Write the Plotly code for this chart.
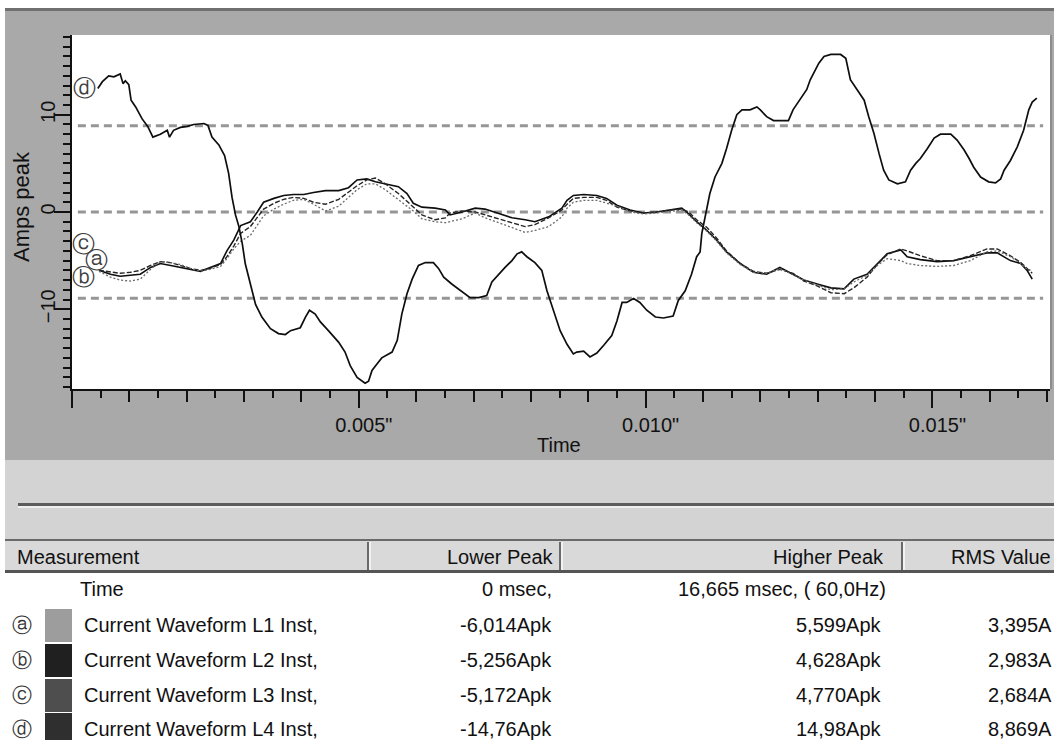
import plotly.graph_objects as go

# ---- waveform data (time in ms, current in A) ----
t_ms_L4 = [0.45, 0.53, 0.64, 0.73, 0.84, 0.89, 0.93, 0.99, 1.03, 1.11,
           1.22, 1.32, 1.41, 1.54, 1.66, 1.70, 1.77, 1.89, 2.01, 2.12,
           2.30, 2.37, 2.44, 2.56, 2.66, 2.73, 2.79, 2.85, 2.91, 2.97,
           3.02, 3.11, 3.20, 3.31, 3.46, 3.60, 3.72, 3.81, 3.98, 4.07,
           4.14, 4.24, 4.33, 4.47, 4.65, 4.76, 4.85, 4.97, 5.11, 5.17,
           5.23, 5.32, 5.40, 5.58, 5.67, 5.75, 5.84, 5.93, 6.04, 6.16,
           6.30, 6.39, 6.48, 6.62, 6.80, 6.94, 7.09, 7.23, 7.32, 7.44,
           7.55, 7.67, 7.76, 7.84, 7.93, 8.07, 8.19, 8.28, 8.39, 8.51,
           8.63, 8.74, 8.80, 8.92, 9.03, 9.15, 9.27, 9.41, 9.50, 9.59,
           9.67, 9.79, 9.90, 10.02, 10.17, 10.31, 10.48, 10.57, 10.69, 10.80,
           10.89, 10.95, 10.98, 11.04, 11.12, 11.21, 11.33, 11.41, 11.50, 11.59,
           11.68, 11.82, 11.94, 12.00, 12.11, 12.23, 12.49, 12.57, 12.69, 12.81,
           12.87, 12.94, 13.02, 13.11, 13.23, 13.40, 13.49, 13.57, 13.69, 13.81,
           13.89, 13.98, 14.07, 14.15, 14.24, 14.39, 14.53, 14.62, 14.71, 14.79,
           14.91, 15.03, 15.14, 15.32, 15.43, 15.55, 15.64, 15.72, 15.84, 15.98,
           16.10, 16.19, 16.25, 16.36, 16.48, 16.59, 16.68, 16.74, 16.82]
amps_L4 = [12.7, 13.4, 14.0, 13.9, 14.2, 13.2, 13.5, 13.1, 11.5, 10.8,
           9.6, 8.8, 7.7, 8.0, 8.4, 7.7, 8.4, 8.7, 8.8, 9.0,
           9.1, 8.9, 7.7, 6.9, 5.8, 4.0, 1.5, -0.3, -1.5, -3.3,
           -5.3, -7.4, -9.5, -10.8, -12.0, -12.5, -12.6, -12.2, -11.9, -10.8,
           -10.1, -10.5, -11.3, -12.2, -13.4, -14.4, -15.8, -17.0, -17.6, -17.4,
           -16.3, -15.6, -15.0, -14.4, -13.2, -10.5, -8.4, -6.9, -5.5, -5.2,
           -5.2, -5.8, -6.7, -7.4, -8.2, -8.8, -8.8, -8.6, -7.2, -6.4,
           -5.7, -5.0, -4.3, -4.1, -4.6, -5.2, -6.0, -8.1, -10.1, -12.2,
           -13.6, -14.6, -14.4, -14.3, -14.9, -14.5, -13.7, -12.7, -11.2, -9.3,
           -9.3, -8.9, -9.3, -10.1, -10.8, -10.9, -10.7, -9.1, -8.1, -6.4,
           -4.6, -4.1, -2.2, -0.3, 1.9, 3.6, 5.0, 6.5, 8.4, 10.0,
           10.5, 10.5, 10.8, 10.5, 9.8, 9.4, 9.4, 10.5, 11.5, 12.6,
           13.6, 14.4, 15.3, 16.0, 16.2, 16.2, 15.8, 13.6, 12.5, 11.5,
           9.8, 8.1, 6.0, 4.3, 3.3, 2.9, 3.1, 4.3, 5.0, 5.5,
           6.5, 7.6, 8.0, 8.0, 7.4, 6.4, 5.5, 4.6, 3.6, 3.1,
           3.0, 3.4, 4.3, 5.3, 6.7, 8.4, 10.5, 11.3, 11.7]

t_ms_L123 = [0.47, 0.67, 0.84, 1.02, 1.19, 1.37, 1.54, 1.72, 1.89, 2.06,
             2.24, 2.41, 2.59, 2.70, 2.82, 2.94, 3.11, 3.23, 3.34, 3.52,
             3.69, 3.86, 4.04, 4.21, 4.42, 4.65, 4.82, 4.97, 5.14, 5.29,
             5.46, 5.69, 5.84, 5.95, 6.10, 6.33, 6.51, 6.59, 6.80, 7.03,
             7.20, 7.44, 7.67, 7.90, 8.07, 8.31, 8.54, 8.63, 8.74, 8.92,
             9.15, 9.32, 9.50, 9.73, 9.96, 10.19, 10.43, 10.63, 10.75, 10.89,
             11.07, 11.24, 11.41, 11.65, 11.88, 12.11, 12.34, 12.57, 12.76, 12.99,
             13.23, 13.46, 13.63, 13.86, 14.04, 14.21, 14.45, 14.56, 14.79, 15.08,
             15.37, 15.66, 15.95, 16.13, 16.36, 16.54, 16.65, 16.74]
amps_L1 = [-6.1, -6.7, -7.0, -7.1, -6.9, -5.9, -5.1, -5.2, -5.4, -5.8,
           -6.1, -5.9, -5.6, -4.8, -3.8, -3.0, -2.4, -1.3, -0.4, 0.3,
           0.8, 1.2, 1.3, 0.8, 0.1, 0.6, 1.5, 2.3, 2.9, 2.9,
           2.3, 1.3, 0.6, 0.1, -0.7, -1.0, -1.1, -1.0, -0.7, -0.1,
           -0.6, -1.1, -1.6, -2.1, -1.9, -1.5, -0.5, 0.4, 1.0, 1.2,
           1.2, 0.9, 0.6, 0.0, -0.2, -0.1, 0.1, 0.2, -0.3, -1.1,
           -2.0, -3.0, -4.2, -5.4, -6.2, -6.3, -5.8, -6.5, -7.0, -7.5,
           -8.0, -7.9, -7.2, -6.5, -5.5, -4.8, -5.0, -5.3, -5.5, -5.6,
           -5.5, -5.0, -4.1, -4.0, -4.6, -5.3, -5.9, -6.0]
amps_L2 = [-6.0, -6.4, -6.6, -6.5, -6.4, -5.7, -5.3, -5.5, -5.7, -5.9,
           -6.1, -5.7, -5.3, -4.0, -2.9, -1.4, -1.0, 0.0, 1.0, 1.4,
           1.7, 1.8, 1.8, 2.0, 2.2, 2.2, 2.5, 3.3, 3.4, 3.1,
           2.9, 2.6, 1.9, 0.9, 0.5, 0.4, 0.2, -0.3, 0.0, 0.4,
           0.3, -0.2, -0.6, -0.8, -1.0, -0.5, 0.4, 1.2, 1.7, 1.8,
           1.7, 1.4, 0.7, 0.2, -0.1, 0.0, 0.2, 0.4, -0.2, -1.0,
           -1.9, -2.9, -4.1, -5.3, -6.2, -6.4, -5.7, -6.4, -7.0, -7.4,
           -7.8, -7.9, -6.9, -6.4, -5.3, -4.3, -3.9, -4.6, -4.9, -5.1,
           -5.0, -4.6, -4.2, -4.2, -5.0, -5.3, -6.0, -6.9]
amps_L3 = [-6.0, -6.2, -6.3, -6.2, -6.0, -5.5, -5.1, -5.2, -5.5, -5.8,
           -6.0, -5.8, -5.4, -4.6, -3.5, -2.2, -1.5, -0.6, 0.3, 0.9,
           1.3, 1.5, 1.4, 1.0, 0.8, 1.3, 2.0, 2.7, 3.3, 3.5,
           2.9, 1.9, 1.1, 0.5, -0.3, -0.8, -0.6, -0.1, 0.1, 0.0,
           -0.3, -0.7, -1.1, -1.5, -1.3, -0.6, 0.2, 0.8, 1.4, 1.5,
           1.5, 1.2, 0.5, 0.1, -0.1, 0.0, 0.2, 0.3, 0.0, -0.8,
           -1.6, -2.7, -4.0, -5.3, -6.1, -6.3, -5.9, -6.3, -7.1, -7.6,
           -8.3, -8.4, -7.8, -6.7, -5.4, -4.4, -3.8, -4.0, -4.5, -5.0,
           -5.0, -4.5, -3.8, -3.8, -4.5, -5.2, -5.8, -6.3]

# ---- measurement table ----
tags = ["ⓐ", "ⓑ", "ⓒ", "ⓓ"]
channel_names = ["Current Waveform L1 Inst,", "Current Waveform L2 Inst,",
                 "Current Waveform L3 Inst,", "Current Waveform L4 Inst,"]
swatch_colors = ["#9d9d9d", "#202020", "#4e4e4e", "#2f2f2f"]
lower_peak = ["-6,014Apk", "-5,256Apk", "-5,172Apk", "-14,76Apk"]
higher_peak = ["5,599Apk", "4,628Apk", "4,770Apk", "14,98Apk"]
rms_value = ["3,395A", "2,983A", "2,684A", "8,869A"]
rms_L4 = 8.869
header = ["Measurement", "Lower Peak", "Higher Peak", "RMS Value"]
time_row = ["Time", "0 msec,", "16,665 msec, ( 60,0Hz)"]

y_ticks = [-10, 0, 10]
x_ticks = [0.005, 0.010, 0.015]
x_ticktext = ['0.005"', '0.010"', '0.015"']

W, H = 1054, 740
UI_FONT = "Liberation Sans, Arial, sans-serif"
FS = 20
INK = "#111111"


def px(x):
    return x / W


def py(y):
    return 1 - y / H


def sec(ms_list):
    return [v / 1000.0 for v in ms_list]


fig = go.Figure()

fig.add_trace(go.Scatter(x=sec(t_ms_L4), y=amps_L4, mode="lines", name="L4",
                         xaxis="x3", yaxis="y",
                         line=dict(color="#0e0e0e", width=1.7)))
fig.add_trace(go.Scatter(x=sec(t_ms_L123), y=amps_L1, mode="lines", name="L1",
                         xaxis="x2", yaxis="y",
                         line=dict(color="#6a6a6a", width=1.3, dash="2px,2px")))
fig.add_trace(go.Scatter(x=sec(t_ms_L123), y=amps_L3, mode="lines", name="L3",
                         xaxis="x", yaxis="y2",
                         line=dict(color="#262626", width=1.4, dash="5px,2px")))
fig.add_trace(go.Scatter(x=sec(t_ms_L123), y=amps_L2, mode="lines", name="L2",
                         xaxis="x", yaxis="y",
                         line=dict(color="#0e0e0e", width=1.6)))

shapes = []


def rect(x0, y0, x1, y1, color):
    shapes.append(dict(type="rect", xref="paper", yref="paper", layer="below",
                       x0=px(x0), x1=px(x1), y0=py(y1), y1=py(y0),
                       fillcolor=color, line=dict(width=0)))


# window panels
rect(5, 8, W, 460, "#a9a9a9")
rect(5, 8, W, 11, "#707070")
rect(72, 35, 1050, 389, "#ffffff")
rect(1050, 35, 1052, 389, "#8c8c8c")
rect(5, 460, W, 540, "#d3d3d3")
rect(18, 503, W, 506, "#5c5c5c")
rect(18, 506, W, 508, "#efefef")
rect(5, 540, W, 572, "#d9d9d9")
rect(5, 539, W, 541, "#6a6a6a")
rect(5, 570, W, 573, "#555555")
for xs in (368, 560, 902):
    rect(xs - 1, 542, xs + 1, 570, "#6a6a6a")
    rect(xs + 1, 542, xs + 3, 570, "#f2f2f2")

# RMS reference levels of L4
for level in (rms_L4, 0.0, -rms_L4):
    shapes.append(dict(type="line", xref="x domain", yref="y", layer="below",
                       x0=0.006, x1=0.993, y0=level, y1=level,
                       line=dict(color="#969696", width=3, dash="8px,5px")))

annotations = []


def text(s, x, y, anchor="left", size=FS, color=INK, family=UI_FONT, angle=0):
    annotations.append(dict(text=s, xref="paper", yref="paper", x=px(x), y=py(y),
                            xanchor=anchor, yanchor="middle", showarrow=False,
                            textangle=angle,
                            font=dict(family=family, size=size, color=color)))


text("Time", 559, 445, anchor="center")
text("Amps peak", 22, 207, anchor="center", angle=-90, size=22)

# curve tags next to the start of each trace
tag_font = dict(family="DejaVu Sans", size=23, color="#404040")
annotations.append(dict(text=tags[3], x=t_ms_L4[0] / 1000, y=amps_L4[0], xref="x", yref="y",
                        xshift=-13, showarrow=False, font=tag_font))
annotations.append(dict(text=tags[2], x=t_ms_L123[0] / 1000, y=amps_L3[0], xref="x", yref="y",
                        xshift=-15, yshift=26, showarrow=False, font=tag_font))
annotations.append(dict(text=tags[0], x=t_ms_L123[0] / 1000, y=amps_L1[0], xref="x", yref="y",
                        xshift=-2, yshift=11, showarrow=False, font=tag_font))
annotations.append(dict(text=tags[1], x=t_ms_L123[0] / 1000, y=amps_L2[0], xref="x", yref="y",
                        xshift=-15, yshift=-7, showarrow=False, font=tag_font))

# table header
text(header[0], 15, 557)
text(header[1], 556, 557, anchor="right")
text(header[2], 886, 557, anchor="right")
text(header[3], 1053, 557, anchor="right")

# time row
text(time_row[0], 78, 589)
text(time_row[1], 554, 589, anchor="right")
text(time_row[2], 888, 589, anchor="right")

row_y = [625, 660, 695, 729]
for i in range(4):
    y = row_y[i]
    text(tags[i], 22, y, anchor="center", size=20, color="#333333", family="DejaVu Sans")
    rect(45, y - 16, 72, y + 17, swatch_colors[i])
    text(channel_names[i], 82, y)
    text(lower_peak[i], 554, y, anchor="right")
    text(higher_peak[i], 884, y, anchor="right")
    text(rms_value[i], 1054, y, anchor="right")

tick_style = dict(showgrid=False, zeroline=False, ticks="outside",
                  tickcolor=INK, tickwidth=2)
x_range = [0, 0.01705]
y_range = [-18.2, 18.2]

fig.update_layout(
    width=W, height=H, autosize=False,
    margin=dict(l=0, r=0, t=0, b=0),
    paper_bgcolor="white", plot_bgcolor="rgba(0,0,0,0)",
    showlegend=False,
    shapes=shapes, annotations=annotations,
    # labelled time axis with 0.5 ms minor ticks
    xaxis=dict(domain=[px(72), px(1050)], range=x_range, anchor="y",
               showline=True, linecolor=INK, linewidth=2,
               tickmode="array", tickvals=x_ticks, ticktext=x_ticktext, ticklen=13,
               ticklabelstandoff=4, ticklabelshift=5,
               tickfont=dict(family=UI_FONT, size=FS, color=INK),
               minor=dict(tickmode="linear", tick0=0, dtick=0.0005, ticklen=7,
                          tickwidth=2, tickcolor=INK, ticks="outside"),
               **tick_style),
    # 1 ms ticks
    xaxis2=dict(overlaying="x", matches="x", anchor="y", side="bottom",
                tickmode="linear", tick0=0, dtick=0.001, ticklen=12,
                showticklabels=False, showline=False, **tick_style),
    # 5 ms ticks
    xaxis3=dict(overlaying="x", matches="x", anchor="y", side="bottom",
                tickmode="linear", tick0=0, dtick=0.005, ticklen=18,
                showticklabels=False, showline=False, **tick_style),
    yaxis=dict(domain=[py(389), py(35)], range=y_range, anchor="x",
               showline=True, linecolor=INK, linewidth=2,
               tickmode="array", tickvals=y_ticks, ticklen=7, tickangle=-90,
               tickfont=dict(family=UI_FONT, size=FS, color=INK),
               minor=dict(tickmode="linear", tick0=0, dtick=1, ticklen=7,
                          tickwidth=2, tickcolor=INK, ticks="outside"),
               **tick_style),
    yaxis2=dict(overlaying="y", matches="y", anchor="x", side="left",
                tickmode="array", tickvals=y_ticks, ticklen=17,
                showticklabels=False, showline=False, **tick_style),
)

fig.write_html("out.html")
